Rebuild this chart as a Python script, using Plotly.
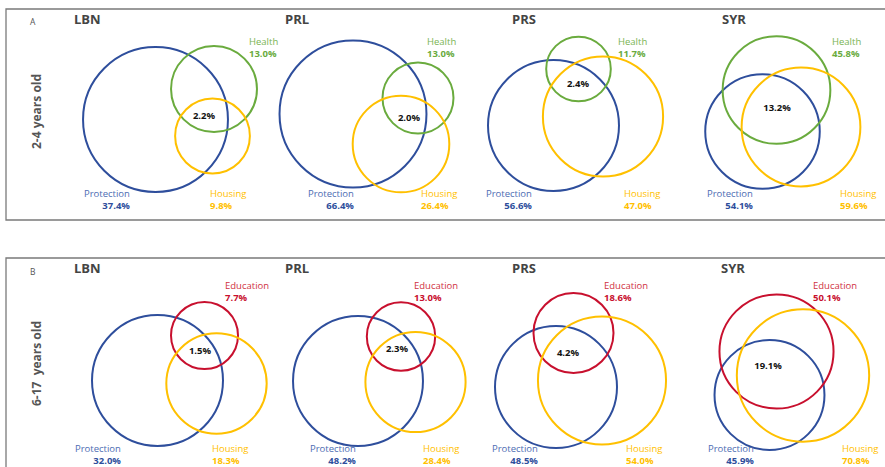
import plotly.graph_objects as go
import math

# ---------------- data ----------------
countries = ["LBN", "PRL", "PRS", "SYR"]

protection_2_4 = [37.4, 66.4, 56.6, 54.1]
health_2_4 = [13.0, 13.0, 11.7, 45.8]
housing_2_4 = [9.8, 26.4, 47.0, 59.6]
all_three_2_4 = [2.2, 2.0, 2.4, 13.2]

protection_6_17 = [32.0, 48.2, 48.5, 45.9]
education_6_17 = [7.7, 13.0, 18.6, 50.1]
housing_6_17 = [18.3, 28.4, 54.0, 70.8]
all_three_6_17 = [1.5, 2.3, 4.2, 19.1]

row_titles = ["2-4 years old", "6-17\u00a0 years old"]
panel_letters = ["A", "B"]

# ---------------- layout / geometry (pixels on a page-sized axis) ----------------
W, H = 885, 467
FONT = "Open Sans"
C_PROT, C_PROT_T = "#2E4E9C", "#4D6CB3"
C_HEALTH, C_HEALTH_T = "#6AAB3E", "#79B452"
C_HOUS, C_HOUS_T = "#FFC000", "#FFC000"
C_EDU, C_EDU_T = "#C8102E", "#D0323F"
GREY = "#555555"
LBL = 9.5

rows = [
    dict(
        top=9, bottom=220, title_y=19, letter_y=21, label_y=112,
        sets=[("Protection", protection_2_4, C_PROT, C_PROT_T),
              ("Health", health_2_4, C_HEALTH, C_HEALTH_T),
              ("Housing", housing_2_4, C_HOUS, C_HOUS_T)],
        triple=all_three_2_4,
        top_lbl_y=47.5, bot_lbl_y=199,
        title_x=[73, 284, 511, 721],
        centers=[
            [(155.5, 119.5), (214, 89), (212.5, 136)],
            [(353, 114), (418, 98), (401, 144)],
            [(553.5, 125.5), (578.5, 69), (603, 116.5)],
            [(762.5, 131.5), (776.5, 90), (801, 127)],
        ],
        scale=[(11.75, 0.6), (8.36, 5.35), (8.09, 4.63), (5.8, 14.6)],
        triple_xy=[(204, 117), (409, 119), (578, 85), (777, 109)],
        prot_right=[131, 355, 533, 754],
        top_left=[248, 426, 617, 831],
        hous_left=[209, 420, 623, 839],
    ),
    dict(
        top=258, bottom=475, title_y=268, letter_y=271, label_y=364,
        sets=[("Protection", protection_6_17, C_PROT, C_PROT_T),
              ("Education", education_6_17, C_EDU, C_EDU_T),
              ("Housing", housing_6_17, C_HOUS, C_HOUS_T)],
        triple=all_three_6_17,
        top_lbl_y=291.5, bot_lbl_y=454,
        title_x=[73, 284, 511, 720],
        centers=[
            [(157.5, 380.5), (204.5, 335.5), (216.5, 383.5)],
            [(358, 381), (401, 336.5), (415.5, 382)],
            [(556, 387), (573.5, 333), (602, 380.5)],
            [(769.5, 395), (776.5, 351.5), (803, 375.5)],
        ],
        scale=[(11.1, 2.7), (9.23, 0.9), (7.92, 5.84), (6.83, 8.7)],
        triple_xy=[(200, 352), (397, 350), (568, 354), (768, 367)],
        prot_right=[122, 357, 539, 755],
        top_left=[224, 413, 603, 812],
        hous_left=[211, 422, 625, 841],
    ),
]

fig = go.Figure()
shapes, annotations = [], []


def ann(x, y, text, size, color, anchor="left", bold=False, angle=0):
    annotations.append(dict(
        x=x, y=y, xref="x", yref="y", text=f"<b>{text}</b>" if bold else text,
        showarrow=False, xanchor=anchor, yanchor="middle", textangle=angle,
        align=anchor if anchor in ("left", "right") else "center", borderpad=0,
        font=dict(family=FONT, size=size, color=color),
    ))


def two_line(name, value, name_col, val_col):
    return (f"<span style='color:{name_col}'>{name}</span><br>"
            f"<span style='color:{val_col}'><b>{value:.1f}%</b></span>")


for ri, row in enumerate(rows):
    # panel frame
    shapes.append(dict(type="rect", xref="x", yref="y", x0=6, x1=W + 10,
                       y0=row["top"], y1=row["bottom"],
                       line=dict(color="#7a7a7a", width=1.3), layer="below"))
    ann(29, row["letter_y"], panel_letters[ri], 8.5, GREY)
    ann(36, row["label_y"], row_titles[ri], 12, GREY, anchor="center", bold=True, angle=-90)

    for ci, country in enumerate(countries):
        ann(row["title_x"][ci], row["title_y"], country, 13, "#444444", bold=True)
        a, b = row["scale"][ci]
        for si, (name, values, col, tcol) in enumerate(row["sets"]):
            cx, cy = row["centers"][ci][si]
            r = a * math.sqrt(values[ci]) + b
            shapes.append(dict(type="circle", xref="x", yref="y",
                               x0=cx - r, x1=cx + r, y0=cy - r, y1=cy + r,
                               line=dict(color=col, width=2), fillcolor="rgba(0,0,0,0)"))
        # labels
        pname, pvals, pcol, ptc = row["sets"][0]
        tname, tvals, tcol, ttc = row["sets"][1]
        hname, hvals, hcol, htc = row["sets"][2]
        ann(row["prot_right"][ci], row["bot_lbl_y"],
            two_line(pname, pvals[ci], ptc, pcol), LBL, ptc, anchor="right")
        ann(row["hous_left"][ci], row["bot_lbl_y"],
            two_line(hname, hvals[ci], htc, hcol), LBL, htc)
        ann(row["top_left"][ci], row["top_lbl_y"],
            two_line(tname, tvals[ci], ttc, tcol), LBL, ttc)

    # triple intersections as a text trace
    fig.add_trace(go.Scatter(
        x=[p[0] for p in row["triple_xy"]], y=[p[1] for p in row["triple_xy"]],
        mode="text", text=[f"<b>{v:.1f}%</b>" for v in row["triple"]],
        textfont=dict(family=FONT, size=9.5, color="#111111"),
        hoverinfo="skip", showlegend=False,
    ))

fig.update_layout(
    width=W, height=H, autosize=False,
    margin=dict(l=0, r=0, t=0, b=0),
    paper_bgcolor="white", plot_bgcolor="white",
    shapes=shapes, annotations=annotations,
    xaxis=dict(range=[0, W], visible=False, fixedrange=True),
    yaxis=dict(range=[H, 0], visible=False, fixedrange=True),
    showlegend=False,
)

fig.write_html("out.html", config={"displayModeBar": False},
               post_script="document.body.style.margin='0';")
